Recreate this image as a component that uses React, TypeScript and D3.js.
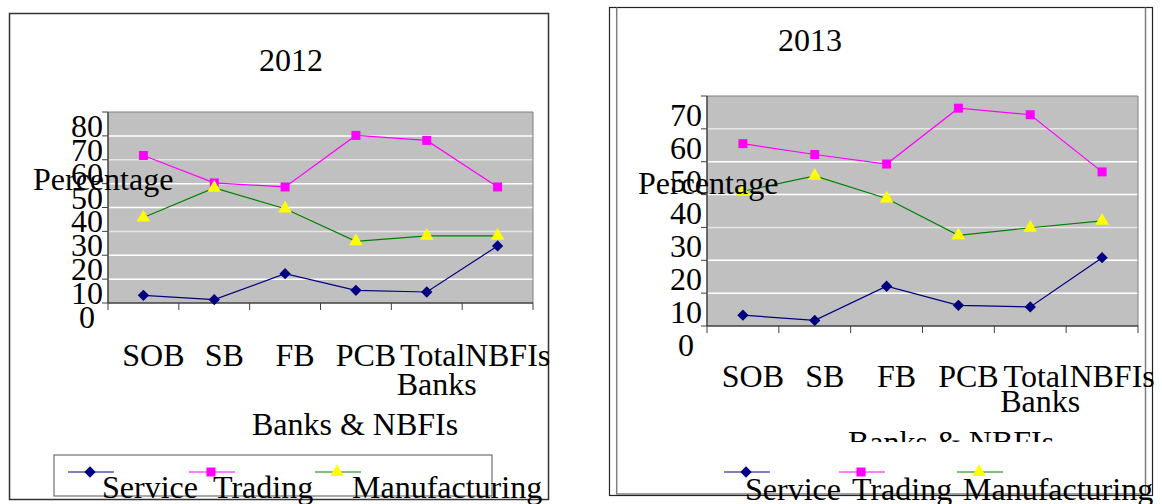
// Sector-wise loan share, 2012 vs 2013 - two Excel-style line charts
import React, { useEffect, useRef } from 'react';
import * as d3 from 'd3';

const categories = ['SOB', 'SB', 'FB', 'PCB', 'Total Banks', 'NBFIs'];
const seriesNames = ['Service', 'Trading', 'Manufacturing'];

// values (percent)
const service2012 = [3.2, 1.4, 12.3, 5.3, 4.6, 23.9];
const trading2012 = [61.8, 50.3, 48.6, 70.2, 68.1, 48.6];
const manufacturing2012 = [35.8, 48.2, 39.5, 25.8, 28.1, 28.1];

const service2013 = [3.3, 1.7, 12.1, 6.3, 5.8, 20.8];
const trading2013 = [55.5, 52.2, 49.3, 66.3, 64.3, 46.9];
const manufacturing2013 = [41.0, 45.7, 38.8, 27.6, 29.9, 32.0];

const yTicks2012 = [0, 10, 20, 30, 40, 50, 60, 70, 80];
const yTicks2013 = [0, 10, 20, 30, 40, 50, 60, 70];

const FONT = "'Liberation Serif', 'Times New Roman', serif";

const seriesStyle = [
  { stroke: '#000080', fill: '#000080', shape: 'diamond' },
  { stroke: '#FF00FF', fill: '#FF00FF', shape: 'square' },
  { stroke: '#008000', fill: '#FFFF00', shape: 'triangle' }
];

interface Layout {
  title: string;
  titleX: number;
  titleY: number;
  left: number;
  right: number;
  top: number;
  bottom: number;
  yTicks: number[];
  yLabelDy: number;
  xLabelDx: number;
  xLabelDy: number;
  xLabelLineH: number;
  axisTitleX: number;
  axisTitleY: number;
  axisClipY?: number;
  pctX: number;
  pctY: number;
  legendBox?: [number, number, number, number];
  legendY: number;
  legendLineX: number[];
  legendTextX: number[];
  legendTextY: number;
}

const layout2012: Layout = {
  title: '2012', titleX: 291, titleY: 71,
  left: 108, right: 533, top: 112, bottom: 303,
  yTicks: yTicks2012, yLabelDy: 1,
  xLabelDx: 10, xLabelDy: 63, xLabelLineH: 29,
  axisTitleX: 355, axisTitleY: 435,
  pctX: 33, pctY: 190,
  legendBox: [54, 455, 438, 41], legendY: 472,
  legendLineX: [68, 189, 315], legendTextX: [102, 213, 352], legendTextY: 498
};

const layout2013: Layout = {
  title: '2013', titleX: 810, titleY: 51,
  left: 707, right: 1138, top: 96, bottom: 326,
  yTicks: yTicks2013, yLabelDy: -3,
  xLabelDx: 10, xLabelDy: 61, xLabelLineH: 25,
  axisTitleX: 951, axisTitleY: 453, axisClipY: 442,
  pctX: 638, pctY: 194,
  legendY: 472,
  legendLineX: [724, 839, 957], legendTextX: [745, 852, 963], legendTextY: 500
};

const symbolFor = (shape: string) => {
  if (shape === 'diamond') return d3.symbol(d3.symbolSquare, 64)();
  if (shape === 'square') return d3.symbol(d3.symbolSquare, 81)();
  return d3.symbol(d3.symbolTriangle, 80)();
};

const addMarker = (g: any, shape: string, cx: number, cy: number, fill: string) => {
  g.append('path')
    .attr('d', symbolFor(shape) as string)
    .attr('transform', `translate(${cx},${cy})${shape === 'diamond' ? ' rotate(45)' : ''}`)
    .attr('fill', fill);
};

const drawChart = (svg: any, L: Layout, values: number[][], idx: number) => {
  const g = svg.append('g').attr('font-family', FONT).attr('font-size', 32);
  const yMax = d3.max(L.yTicks) as number;

  const x = d3.scaleBand().domain(categories).range([L.left, L.right]);
  const y = d3.scaleLinear().domain([0, yMax]).range([L.bottom, L.top]);
  const step = y(0) - y(10);
  const cx = (c: string) => (x(c) as number) + x.bandwidth() / 2;

  // title
  g.append('text').attr('x', L.titleX).attr('y', L.titleY)
    .attr('text-anchor', 'middle').text(L.title);

  // plot area
  g.append('rect')
    .attr('x', L.left).attr('y', L.top)
    .attr('width', L.right - L.left).attr('height', L.bottom - L.top)
    .attr('fill', '#C0C0C0');

  g.selectAll('.grid')
    .data(L.yTicks.filter(t => t > 0 && t < yMax))
    .join('line')
    .attr('x1', L.left).attr('x2', L.right)
    .attr('y1', (d: number) => y(d)).attr('y2', (d: number) => y(d))
    .attr('stroke', (d: number, i: number) => (i % 3 === 2 ? '#E6E6E6' : '#FFFFFF'))
    .attr('stroke-width', 1.5);

  g.append('path')
    .attr('d', `M${L.left},${L.top}H${L.right}V${L.bottom}`)
    .attr('fill', 'none').attr('stroke', '#808080');

  // axes
  g.append('line')
    .attr('x1', L.left).attr('x2', L.left).attr('y1', L.top).attr('y2', L.bottom)
    .attr('stroke', '#404040').attr('stroke-width', 1.5);
  g.append('line')
    .attr('x1', L.left).attr('x2', L.right).attr('y1', L.bottom).attr('y2', L.bottom)
    .attr('stroke', '#404040').attr('stroke-width', 1.5);

  g.selectAll('.ytick').data(L.yTicks).join('line')
    .attr('x1', L.left - 6).attr('x2', L.left)
    .attr('y1', (d: number) => y(d)).attr('y2', (d: number) => y(d))
    .attr('stroke', '#404040');

  const bounds = categories.map(c => x(c) as number).concat([L.right]);
  g.selectAll('.xtick').data(bounds).join('line')
    .attr('x1', (d: number) => d).attr('x2', (d: number) => d)
    .attr('y1', L.bottom).attr('y2', L.bottom + 7)
    .attr('stroke', '#404040');

  // y tick labels (sit one step low, as in the original)
  g.selectAll('.ylab').data(L.yTicks).join('text')
    .attr('x', L.left - 21)
    .attr('y', (d: number) => y(d) + step + L.yLabelDy)
    .attr('text-anchor', 'middle')
    .text((d: number) => String(d));

  // category labels
  categories.forEach(c => {
    const t = g.append('text')
      .attr('x', cx(c) + L.xLabelDx)
      .attr('y', L.bottom + L.xLabelDy)
      .attr('text-anchor', 'middle');
    c.split(' ').forEach((w, i) => {
      t.append('tspan')
        .attr('x', cx(c) + L.xLabelDx + (i === 0 && c.includes(' ') ? -4 : 0))
        .attr('dy', i === 0 ? 0 : L.xLabelLineH)
        .text(w);
    });
  });

  // axis title
  const axisTitle = g.append('text')
    .attr('x', L.axisTitleX).attr('y', L.axisTitleY)
    .attr('text-anchor', 'middle').text('Banks & NBFIs');
  if (L.axisClipY) {
    const id = `clip-axis-${idx}`;
    svg.append('clipPath').attr('id', id)
      .append('rect').attr('x', 0).attr('y', 0).attr('width', 1162).attr('height', L.axisClipY);
    axisTitle.attr('clip-path', `url(#${id})`);
  }

  // series
  const line = d3.line<number>()
    .x((_, i) => cx(categories[i]))
    .y(d => y(d));

  values.forEach((vals, si) => {
    const st = seriesStyle[si];
    g.append('path')
      .attr('d', line(vals) as string)
      .attr('fill', 'none')
      .attr('stroke', st.stroke)
      .attr('stroke-width', 1.2);
    vals.forEach((v, i) => addMarker(g, st.shape, cx(categories[i]), y(v), st.fill));
  });

  // y axis title, drawn over the tick labels
  g.append('text').attr('x', L.pctX).attr('y', L.pctY).text('Percentage');

  // legend
  if (L.legendBox) {
    const [bx, by, bw, bh] = L.legendBox;
    g.append('rect')
      .attr('x', bx).attr('y', by).attr('width', bw).attr('height', bh)
      .attr('fill', 'none').attr('stroke', '#555555');
  }
  seriesNames.forEach((name, si) => {
    const st = seriesStyle[si];
    const lx = L.legendLineX[si];
    g.append('line')
      .attr('x1', lx).attr('x2', lx + 46)
      .attr('y1', L.legendY).attr('y2', L.legendY)
      .attr('stroke', st.stroke).attr('stroke-width', 1.2);
    addMarker(g, st.shape, lx + 22, L.legendY, st.fill);
    g.append('text')
      .attr('x', L.legendTextX[si]).attr('y', L.legendTextY)
      .text(name);
  });
};

const App: React.FC = () => {
  const svgRef = useRef<SVGSVGElement>(null);

  useEffect(() => {
    if (!svgRef.current) return;
    const svg = d3.select(svgRef.current);
    svg.selectAll('*').remove();

    svg.append('rect').attr('width', 1162).attr('height', 504).attr('fill', '#FFFFFF');

    // frames
    svg.append('rect')
      .attr('x', 9.5).attr('y', 13.5).attr('width', 539).attr('height', 486)
      .attr('fill', 'none').attr('stroke', '#333333').attr('stroke-width', 1.5);

    svg.append('rect')
      .attr('x', 609.5).attr('y', 7.5).attr('width', 543).attr('height', 488)
      .attr('fill', 'none').attr('stroke', '#222222').attr('stroke-width', 1.2);
    svg.append('path')
      .attr('d', 'M616.7,7.5V494H1145.5V7.5')
      .attr('fill', 'none').attr('stroke', '#808080').attr('stroke-width', 1.5);

    drawChart(svg, layout2012, [service2012, trading2012, manufacturing2012], 0);
    drawChart(svg, layout2013, [service2013, trading2013, manufacturing2013], 1);
  }, []);

  return (
    <svg
      ref={svgRef}
      width={1162}
      height={504}
      style={{ position: 'absolute', left: 0, top: 0, display: 'block' }}
    />
  );
};

export default App;
